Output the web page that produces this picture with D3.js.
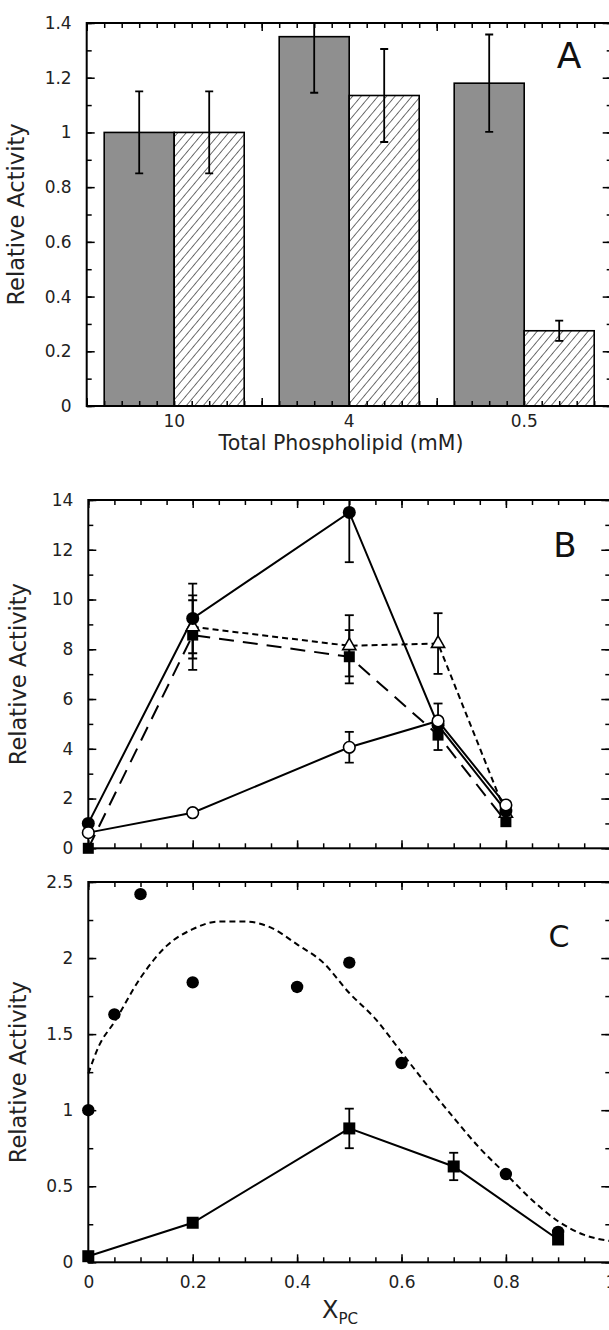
<!DOCTYPE html>
<html lang="en">
<head>
<meta charset="UTF-8">
<title>Relative Activity - three panels</title>
<script src="https://cdnjs.cloudflare.com/ajax/libs/d3/7.8.5/d3.min.js"></script>
<style>
    body { margin: 0; background: #fff; }
    svg { display: block; font-family: "DejaVu Sans", sans-serif; }
    .tick text { font-family: "DejaVu Sans", sans-serif; font-size: 17px; fill: #222; }
    .tick line { stroke: #000; stroke-width: 1.5; }
</style>
</head>
<body>
<div id="chart"></div>
<script>
// ---- Panel A: bars by total phospholipid
const groupsA = ["10", "4", "0.5"];
const grayA = [1.0, 1.35, 1.18];
const grayErrA = [0.15, 0.205, 0.178];
const hatchA = [1.0, 1.135, 0.275];
const hatchErrA = [0.15, 0.17, 0.037];

// ---- Panel B: four series vs X_PC
const xB = [0, 0.2, 0.5, 0.67, 0.8];
const filledCircB = [1.0, 9.24, 13.5, 4.95, 1.5];
const filledCircErrB = [0, 1.4, 2.0, 0, 0];
const openCircB = [0.63, 1.43, 4.06, 5.12, 1.74];
const openCircErrB = [0, 0, 0.62, 0.7, 0];
const xTriB = [0.2, 0.5, 0.67, 0.8];
const triB = [8.9, 8.14, 8.23, 1.4];
const triErrB = [1.27, 1.23, 1.22, 0];
const squareB = [0, 8.57, 7.7, 4.55, 1.07];
const squareErrB = [0, 1.4, 1.07, 0.6, 0];

// ---- Panel C
const xCircC = [0, 0.05, 0.1, 0.2, 0.4, 0.5, 0.6, 0.8, 0.9];
const circC = [1.0, 1.63, 2.42, 1.84, 1.81, 1.97, 1.31, 0.58, 0.2];
const xSquareC = [0, 0.2, 0.5, 0.7, 0.9];
const squareC = [0.04, 0.26, 0.88, 0.63, 0.15];
const squareErrC = [0, 0, 0.13, 0.09, 0];
const fitX = [0, 0.02, 0.05, 0.1, 0.15, 0.2, 0.25, 0.3, 0.35, 0.4, 0.45, 0.5, 0.55, 0.6, 0.65, 0.7, 0.75, 0.8, 0.85, 0.9, 0.95, 1.0];
const fitY = [1.24, 1.42, 1.58, 1.87, 2.08, 2.19, 2.24, 2.24, 2.2, 2.09, 1.97, 1.77, 1.6, 1.38, 1.16, 0.95, 0.75, 0.58, 0.41, 0.27, 0.18, 0.14];

const W = 609, H = 1330;
const svg = d3.select("#chart").append("svg").attr("width", W).attr("height", H);

const defs = svg.append("defs");
const pat = defs.append("pattern")
    .attr("id", "hatch")
    .attr("patternUnits", "userSpaceOnUse")
    .attr("width", 6.5).attr("height", 6.5)
    .attr("patternTransform", "rotate(40)");
pat.append("rect").attr("width", 6.5).attr("height", 6.5).attr("fill", "#fff");
pat.append("line").attr("x1", 0).attr("y1", 0).attr("x2", 0).attr("y2", 6.5)
    .attr("stroke", "#222").attr("stroke-width", 1.3);

const fmt = d => String(+d.toFixed(2));

// draws frame, inward ticks on all four sides
function frame(g, x, y, opt) {
    const [x0, x1] = x.range();
    const [y0, y1] = y.range(); // y0 bottom, y1 top
    const yt = d3.range(y.domain()[0], y.domain()[1] + 1e-9, opt.yMinor);
    const yT = d3.range(y.domain()[0], y.domain()[1] + 1e-9, opt.yMajor);
    const xt = d3.range(opt.xDom[0], opt.xDom[1] + 1e-9, opt.xMinor);
    const xT = d3.range(opt.xDom[0], opt.xDom[1] + 1e-9, opt.xMajor);

    const xs = opt.xTickScale;
    // y axes
    g.append("g").attr("transform", `translate(${x0},0)`)
        .call(d3.axisLeft(y).tickValues(yt).tickSize(-5).tickFormat(""))
        .call(a => a.select(".domain").remove());
    g.append("g").attr("transform", `translate(${x0},0)`)
        .call(d3.axisLeft(y).tickValues(yT).tickSize(-8).tickPadding(15).tickFormat(fmt))
        .call(a => a.select(".domain").remove());
    g.append("g").attr("transform", `translate(${x1},0)`)
        .call(d3.axisRight(y).tickValues(yt).tickSize(-5).tickFormat(""))
        .call(a => a.select(".domain").remove());
    g.append("g").attr("transform", `translate(${x1},0)`)
        .call(d3.axisRight(y).tickValues(yT).tickSize(-9).tickFormat(""))
        .call(a => a.select(".domain").remove());
    // x axes
    g.append("g").attr("transform", `translate(0,${y1})`)
        .call(d3.axisTop(xs).tickValues(xt).tickSize(-5).tickFormat(""))
        .call(a => a.select(".domain").remove());
    g.append("g").attr("transform", `translate(0,${y1})`)
        .call(d3.axisTop(xs).tickValues(xT).tickSize(-8).tickFormat(""))
        .call(a => a.select(".domain").remove());
    g.append("g").attr("transform", `translate(0,${y0})`)
        .call(d3.axisBottom(xs).tickValues(xt).tickSize(-5).tickFormat(""))
        .call(a => a.select(".domain").remove());
    const bx = g.append("g").attr("transform", `translate(0,${y0})`)
        .call(d3.axisBottom(xs).tickValues(xT).tickSize(-8).tickPadding(14)
            .tickFormat(opt.xLabels ? fmt : ""))
        .call(a => a.select(".domain").remove());

    g.append("rect")
        .attr("x", x0).attr("y", y1)
        .attr("width", x1 - x0).attr("height", y0 - y1)
        .attr("fill", "none").attr("stroke", "#000").attr("stroke-width", 2);

    // y title
    g.append("text")
        .attr("transform", `translate(${opt.titleX},${(y0 + y1) / 2}) rotate(-90)`)
        .attr("text-anchor", "middle")
        .attr("font-size", 22.5)
        .attr("fill", "#222")
        .text("Relative Activity");
    // panel letter
    g.append("text")
        .attr("x", opt.letter[1]).attr("y", opt.letter[2])
        .attr("text-anchor", "middle")
        .attr("font-size", opt.letter[3])
        .attr("fill", "#111")
        .text(opt.letter[0]);
    return bx;
}

function errorBars(g, pts, x, y, cap) {
    pts.filter(p => p.e > 0).forEach(p => {
        const cx = x(p.x);
        g.append("line").attr("x1", cx).attr("x2", cx)
            .attr("y1", y(p.v - p.e)).attr("y2", y(p.v + p.e))
            .attr("stroke", "#000").attr("stroke-width", 1.8);
        [p.v - p.e, p.v + p.e].forEach(v => {
            g.append("line").attr("x1", cx - cap).attr("x2", cx + cap)
                .attr("y1", y(v)).attr("y2", y(v))
                .attr("stroke", "#000").attr("stroke-width", 1.8);
        });
    });
}

function clipFor(id, x, y) {
    defs.append("clipPath").attr("id", id).append("rect")
        .attr("x", x.range()[0]).attr("y", y.range()[1])
        .attr("width", x.range()[1] - x.range()[0])
        .attr("height", y.range()[0] - y.range()[1]);
    return `url(#${id})`;
}

// ================= Panel A =================
{
    const x = d3.scaleBand().domain(groupsA).range([86.7, 611.7]).paddingInner(0.2).paddingOuter(0.1);
    const xSub = d3.scaleBand().domain(["gray", "hatch"]).range([0, x.bandwidth()]);
    const xTicks = d3.scaleLinear().domain([0, 3]).range([86.7, 611.7]);
    const y = d3.scaleLinear().domain([0, 1.4]).range([406, 23]);
    const g = svg.append("g");

    const rows = groupsA.map((k, i) => ({ k, g: grayA[i], ge: grayErrA[i], h: hatchA[i], he: hatchErrA[i] }));
    g.selectAll(".barG").data(rows).join("rect")
        .attr("x", d => x(d.k) + xSub("gray"))
        .attr("y", d => y(d.g))
        .attr("width", xSub.bandwidth())
        .attr("height", d => y(0) - y(d.g))
        .attr("fill", "#8f8f8f").attr("stroke", "#000").attr("stroke-width", 1.6);
    g.selectAll(".barH").data(rows).join("rect")
        .attr("x", d => x(d.k) + xSub("hatch"))
        .attr("y", d => y(d.h))
        .attr("width", xSub.bandwidth())
        .attr("height", d => y(0) - y(d.h))
        .attr("fill", "url(#hatch)").attr("stroke", "#000").attr("stroke-width", 1.6);

    const eg = g.append("g").attr("clip-path", clipFor("clipA", xTicks, y));
    const lin = d3.scaleIdentity();
    rows.forEach(d => {
        const gx = x(d.k) + xSub("gray") + xSub.bandwidth() / 2;
        const hx = x(d.k) + xSub("hatch") + xSub.bandwidth() / 2;
        errorBars(eg, [{ x: gx, v: d.g, e: d.ge }, { x: hx, v: d.h, e: d.he }], lin, y, 4);
    });

    frame(g, xTicks, y, {
        xDom: [0, 3], xMinor: 0.1, xMajor: 1, yMinor: 0.1, yMajor: 0.2,
        xTickScale: xTicks, xLabels: false, titleX: 24, letter: ["A", 569, 68, 36]
    });

    g.append("g").attr("transform", `translate(0,${y(0)})`)
        .call(d3.axisBottom(x).tickSize(0).tickPadding(9))
        .call(a => a.select(".domain").remove());
    g.append("text")
        .attr("x", 341).attr("y", 450)
        .attr("text-anchor", "middle").attr("font-size", 20.5).attr("fill", "#222")
        .text("Total Phospholipid (mM)");
}

// ================= Panel B =================
{
    const x = d3.scaleLinear().domain([0, 1]).range([88.3, 610.3]);
    const y = d3.scaleLinear().domain([0, 14]).range([848.3, 500]);
    const g = svg.append("g");

    const sq = xB.map((v, i) => ({ x: v, v: squareB[i], e: squareErrB[i] }));
    const tri = xTriB.map((v, i) => ({ x: v, v: triB[i], e: triErrB[i] }));
    const fc = xB.map((v, i) => ({ x: v, v: filledCircB[i], e: filledCircErrB[i] }));
    const oc = xB.map((v, i) => ({ x: v, v: openCircB[i], e: openCircErrB[i] }));

    const line = d3.line().x(d => x(d.x)).y(d => y(d.v));
    const eg = g.append("g").attr("clip-path", clipFor("clipB", x, y));
    [sq, tri, fc, oc].forEach(s => errorBars(eg, s, x, y, 4.5));

    g.append("path").datum(sq).attr("d", line).attr("fill", "none")
        .attr("stroke", "#000").attr("stroke-width", 2).attr("stroke-dasharray", "15,9");
    g.append("path").datum(tri).attr("d", line).attr("fill", "none")
        .attr("stroke", "#000").attr("stroke-width", 2).attr("stroke-dasharray", "6,4");
    g.append("path").datum(fc).attr("d", line).attr("fill", "none")
        .attr("stroke", "#000").attr("stroke-width", 2);
    g.append("path").datum(oc).attr("d", line).attr("fill", "none")
        .attr("stroke", "#000").attr("stroke-width", 2);

    frame(g, x, y, {
        xDom: [0, 1], xMinor: 0.05, xMajor: 0.2, yMinor: 1, yMajor: 2,
        xTickScale: x, xLabels: false, titleX: 26, letter: ["B", 565, 557, 34]
    });

    g.selectAll(".sq").data(sq).join("rect")
        .attr("x", d => x(d.x) - 5.5).attr("y", d => y(d.v) - 5.5)
        .attr("width", 11).attr("height", 11).attr("fill", "#000");
    const triPath = d3.symbol().type(d3.symbolTriangle).size(75);
    g.selectAll(".tri").data(tri).join("path")
        .attr("d", triPath)
        .attr("transform", d => `translate(${x(d.x)},${y(d.v)})`)
        .attr("fill", "#fff").attr("stroke", "#000").attr("stroke-width", 1.6);
    g.selectAll(".fc").data(fc).join("circle")
        .attr("cx", d => x(d.x)).attr("cy", d => y(d.v)).attr("r", 6.5).attr("fill", "#000");
    g.selectAll(".oc").data(oc).join("circle")
        .attr("cx", d => x(d.x)).attr("cy", d => y(d.v)).attr("r", 5.8)
        .attr("fill", "#fff").attr("stroke", "#000").attr("stroke-width", 1.6);
}

// ================= Panel C =================
{
    const x = d3.scaleLinear().domain([0, 1]).range([88.3, 610.3]);
    const y = d3.scaleLinear().domain([0, 2.5]).range([1262.3, 882]);
    const g = svg.append("g");

    const fit = fitX.map((v, i) => ({ x: v, v: fitY[i] }));
    const sq = xSquareC.map((v, i) => ({ x: v, v: squareC[i], e: squareErrC[i] }));
    const circ = xCircC.map((v, i) => ({ x: v, v: circC[i] }));

    g.append("path").datum(fit)
        .attr("d", d3.line().x(d => x(d.x)).y(d => y(d.v)).curve(d3.curveMonotoneX))
        .attr("fill", "none").attr("stroke", "#000").attr("stroke-width", 2)
        .attr("stroke-dasharray", "6,4");

    errorBars(g, sq, x, y, 4.5);
    g.append("path").datum(sq)
        .attr("d", d3.line().x(d => x(d.x)).y(d => y(d.v)))
        .attr("fill", "none").attr("stroke", "#000").attr("stroke-width", 2);

    frame(g, x, y, {
        xDom: [0, 1], xMinor: 0.05, xMajor: 0.2, yMinor: 0.25, yMajor: 0.5,
        xTickScale: x, xLabels: true, titleX: 26, letter: ["C", 559, 947, 30]
    });

    g.selectAll(".sq").data(sq).join("rect")
        .attr("x", d => x(d.x) - 6).attr("y", d => y(d.v) - 6)
        .attr("width", 12).attr("height", 12).attr("fill", "#000");
    g.selectAll(".circ").data(circ).join("circle")
        .attr("cx", d => x(d.x)).attr("cy", d => y(d.v)).attr("r", 6.2).attr("fill", "#000");

    const xl = g.append("text")
        .attr("x", 340).attr("y", 1318)
        .attr("text-anchor", "middle").attr("fill", "#222");
    xl.append("tspan").attr("font-size", 24).text("X");
    xl.append("tspan").attr("font-size", 15).attr("dy", 6).text("PC");
}
</script>
</body>
</html>
